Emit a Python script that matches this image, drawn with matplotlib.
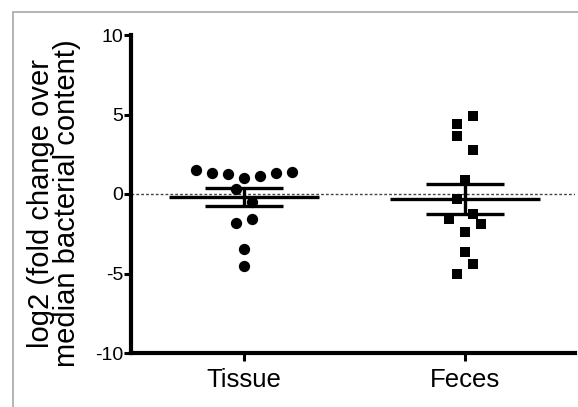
import numpy as np
import matplotlib
matplotlib.use("Agg")
import matplotlib.pyplot as plt
from matplotlib.patches import Rectangle

plt.rcParams["font.family"] = ["Liberation Sans", "DejaVu Sans"]

# values (log2 fold change)
groups = ["Tissue", "Feces"]
tissue = [1.51, 1.30, 1.24, 1.03, 1.15, 1.30, 1.40, 0.29, -0.48, -1.57, -1.80, -3.46, -4.51]
tissue_slot = [-3, -2, -1, 0, 1, 2, 3, -0.5, 0.5, 0.5, -0.5, 0, 0]
feces = [4.93, 4.38, 3.67, 2.79, 0.86, -0.31, -1.28, -1.55, -1.91, -2.39, -3.67, -4.38, -5.03]
feces_slot = [0.5, -0.5, -0.5, 0.5, 0, -0.5, 0.5, -1, 1, 0, 0, 0.5, -0.5]
yticks = [-10, -5, 0, 5, 10]

slot_w = 0.0724
W, H = 578, 407
fig = plt.figure(figsize=(W / 100, H / 100), dpi=100)
ax = fig.add_axes([131 / W, 1 - 353 / H, (575 - 131) / W, (353 - 35) / H])

# light grey frame, cut off on the right and at the bottom like the source
fig.patches.append(Rectangle((13 / W, -0.1), 1.0, 1.1 - 12 / H,
                             transform=fig.transFigure, fill=False,
                             ec="#a8a8a8", lw=1.2))

ax.axhline(0, color="#444444", lw=1.0, ls=(0, (2, 1.5)), zorder=1)

sets = [(tissue, tissue_slot, "o", 66), (feces, feces_slot, "s", 60)]
for i, (vals, slots, mk, ms) in enumerate(sets):
    xc = i + 1
    vals = np.array(vals)
    x = xc + np.array(slots) * slot_w
    ax.scatter(x, vals, marker=mk, s=ms, c="black", linewidths=0, zorder=3)
    mean = vals.mean()
    sem = vals.std(ddof=1) / np.sqrt(len(vals))
    ax.hlines(mean, xc - 0.34, xc + 0.34, color="black", lw=2.4, zorder=4)
    ax.hlines([mean - sem, mean + sem], xc - 0.175, xc + 0.175,
              color="black", lw=2.4, zorder=4)
    ax.vlines(xc, mean - sem, mean + sem, color="black", lw=2.4, zorder=4)

ax.set_xlim(0.489, 2.497)
ax.set_ylim(-10, 10)
ax.set_yticks(yticks)
ax.set_yticklabels([str(t) for t in yticks], fontsize=14)
ax.set_xticks([1, 2])
ax.set_xticklabels(groups, fontsize=18.5)

for side in ["top", "right"]:
    ax.spines[side].set_visible(False)
for side in ["left", "bottom"]:
    ax.spines[side].set_linewidth(3)
ax.tick_params(axis="y", length=5, width=2.2, pad=0.5)
ax.tick_params(axis="x", length=6, width=2.2, pad=5)

fig.text(54 / W, 1 - 203 / H, "log2 (fold change over\nmedian bacterial content)",
         rotation=90, ha="center", va="center", fontsize=21, linespacing=0.92)

fig.savefig("out.png", dpi=100)
